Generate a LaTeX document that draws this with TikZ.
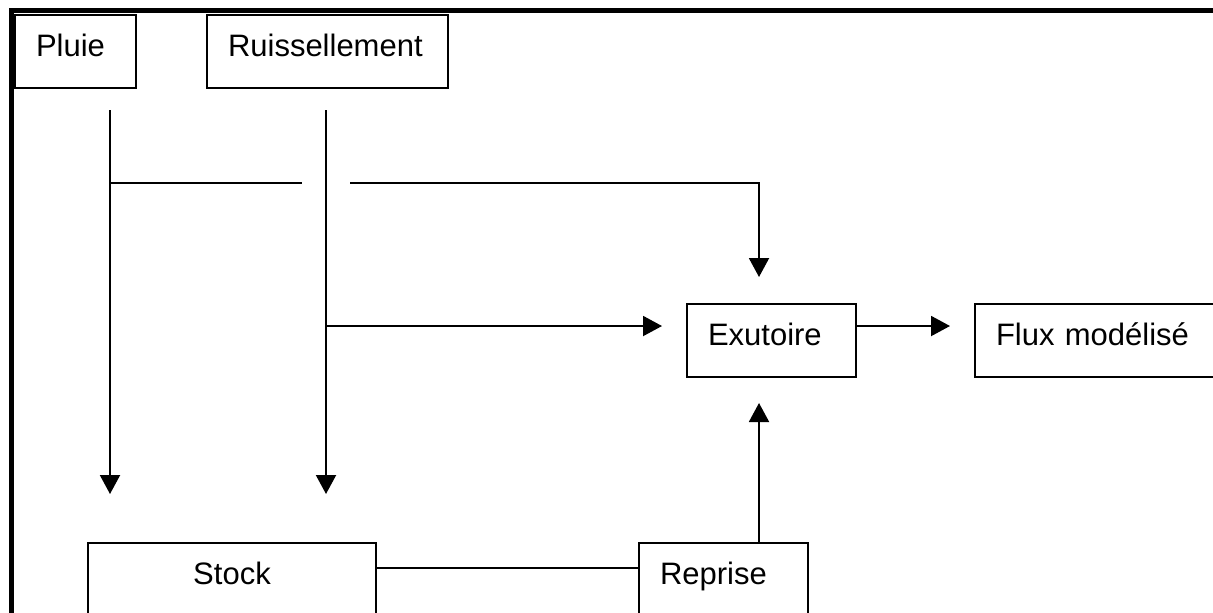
\documentclass[tikz,border=0pt]{standalone}
\usepackage{fontspec}
\setmainfont{Liberation Sans}
\usetikzlibrary{arrows.meta}
\tikzset{
  boite/.style = {draw, rectangle, line width=1pt, anchor=north west,
    inner xsep=10.5pt, inner ysep=0pt, minimum height=36.5pt,
    text height=0.75em, text depth=0.25em, align=left,
    font=\fontsize{15.5}{18}\selectfont},% case de texte
  trait/.style = {line width=1pt},% liaison simple
  fleche/.style = {trait, -{Triangle[width=10pt,length=9.5pt]}},% liaison flechee
  cadre/.style = {line width=2.5pt}% bord de la page
}

\begin{document}
\begin{tikzpicture}[x=0.5pt,y=-0.5pt]
\clip (0,0) rectangle (1213,612);
\draw[cadre] (11,640) -- (11,10.5) -- (1240,10.5);

% cases
\node[boite, text width=39.5pt] (pluie) at (14,14) {Pluie};
\node[boite, text width=99.5pt] (ruis) at (206,14) {Ruissellement};
\node[boite, text width=63.5pt] (exutoire) at (686,303) {Exutoire};
\node[boite, text width=107pt] (flux) at (974,303) {Flux modélisé};
\node[boite, text width=123pt, align=center] (stock) at (87,542) {Stock};
\node[boite, text width=63.5pt] (reprise) at (638,542) {Reprise};

% points libres
\coordinate (pluieHaut) at (110,110);
\coordinate (pluieBas) at (110,494);
\coordinate (ruisHaut) at (326,110);
\coordinate (ruisBas) at (326,494);
\coordinate (branche) at (110,183);
\coordinate (coupeG) at (302,183);
\coordinate (coupeD) at (350,183);
\coordinate (ruisMilieu) at (326,326);
\coordinate (montee) at (759,542);

% liaisons
\draw[fleche] (pluieHaut) -- (pluieBas);
\draw[fleche] (ruisHaut) -- (ruisBas);
\draw[trait] (branche) -- (coupeG);
\draw[fleche, shorten >=13pt] (coupeD) -| (exutoire.north -| montee);
\draw[fleche, shorten >=12pt] (ruisMilieu) -- (ruisMilieu -| exutoire.west);
\draw[fleche, shorten >=12pt] (exutoire.east |- ruisMilieu) -- (flux.west |- ruisMilieu);
\draw[fleche, shorten >=12.5pt] (montee) -- (montee |- exutoire.south);
\draw[trait] ([yshift=5.75pt]stock.east) -- ([yshift=5.75pt]reprise.west);
\end{tikzpicture}
\end{document}
